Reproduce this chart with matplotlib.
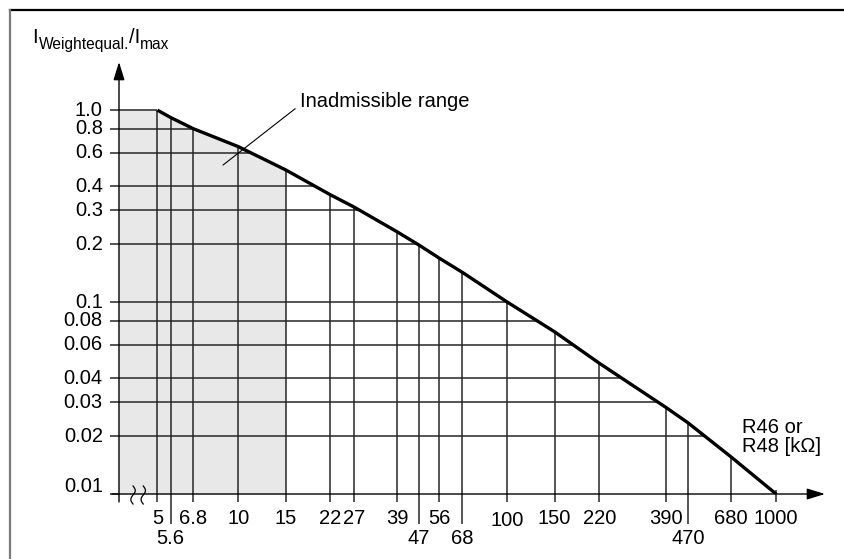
import numpy as np
import matplotlib
matplotlib.use('Agg')
import matplotlib.pyplot as plt
import matplotlib.transforms as mtransforms
from matplotlib.lines import Line2D

plt.rcParams['font.family'] = ['Liberation Sans', 'DejaVu Sans']

# load resistor R46 / R48 [kOhm] against permitted current ratio
r_kohm = [5, 5.6, 6.8, 10, 15, 22, 27, 39, 47, 56, 68, 100, 150, 220, 390, 470, 680, 1000]
i_ratio = [1.0, 0.915, 0.80, 0.645, 0.488, 0.362, 0.312, 0.232, 0.198, 0.169, 0.143,
           0.100, 0.070, 0.048, 0.0282, 0.0235, 0.0156, 0.01]
x_labels = ['5', '5.6', '6.8', '10', '15', '22', '27', '39', '47', '56', '68',
            '100', '150', '220', '390', '470', '680', '1000']
x_lower_row = ['5.6', '47', '68', '470']
y_ticks = [1.0, 0.8, 0.6, 0.4, 0.3, 0.2, 0.1, 0.08, 0.06, 0.04, 0.03, 0.02, 0.01]
y_labels = ['1.0', '0.8', '0.6', '0.4', '0.3', '0.2', '0.1', '0.08', '0.06',
            '0.04', '0.03', '0.02', '0.01']
inadmissible_limit = 15

FS = 14.5
W, H = 845, 559

fig = plt.figure(figsize=(W / 100, H / 100), dpi=100)
ax = fig.add_axes([119 / W, (H - 494) / H, (825 - 119) / W, (494 - 62) / H])
ax.set_xscale('log')
ax.set_yscale('log')
ax.set_xlim(3.6, 1520)
ax.set_ylim(0.01, 1.78)
for s in ax.spines.values():
    s.set_visible(False)
ax.set_xticks([])
ax.set_yticks([])
ax.minorticks_off()
ax.patch.set_alpha(0)

x0 = ax.get_xlim()[0]
grid_kw = dict(color='#262626', lw=1.1, solid_capstyle='butt')

# shaded inadmissible range (left of 15 kOhm, below the curve)
k = r_kohm.index(inadmissible_limit)
xs = [x0] + r_kohm[:k + 1]
tops = [i_ratio[0]] + i_ratio[:k + 1]
ax.fill_between(xs, 0.01, tops, color='#e8e8e8', lw=0, zorder=0)

# horizontal lines run from the y axis to the curve
log_r = np.log10(r_kohm)[::-1]
log_i = np.log10(i_ratio)[::-1]
ytrans = ax.get_yaxis_transform()
for yv in y_ticks:
    if yv > 0.01:
        x_end = 10 ** np.interp(np.log10(yv), log_i, log_r)
        ax.plot([x0, x_end], [yv, yv], zorder=1, **grid_kw)
    ax.plot([-0.013, 0], [yv, yv], transform=ytrans, clip_on=False, zorder=1, **grid_kw)

# vertical lines run from below the x axis up to the curve
xtrans = ax.get_xaxis_transform()
for xv, yv, lab in zip(r_kohm, i_ratio, x_labels):
    if yv > 0.01:
        ax.plot([xv, xv], [0.01, yv], zorder=1, **grid_kw)
        low = -30 / 432 if lab in x_lower_row else -8 / 432
        ax.plot([xv, xv], [low, 0], transform=xtrans, clip_on=False, zorder=1, **grid_kw)
    else:
        ax.plot([xv, xv], [-8 / 432, 4 / 432], transform=xtrans, clip_on=False,
                zorder=1, **grid_kw)
    dy = -44 if lab in x_lower_row else (-27 if lab == '100' else -24)
    ax.annotate(lab, xy=(xv, 0.01), xytext=(0, dy), textcoords='offset pixels',
                ha='center', va='center', fontsize=FS, annotation_clip=False)

for yv, lab in zip(y_ticks, y_labels):
    dy = 7 if lab == '0.01' else 0
    ax.annotate(lab, xy=(-0.023, yv), xycoords=ytrans, xytext=(0, dy),
                textcoords='offset pixels', ha='right', va='center', fontsize=FS,
                annotation_clip=False)

# characteristic curve
ax.plot(r_kohm, i_ratio, color='black', lw=2.4, zorder=3, solid_capstyle='butt')

# axes with arrow heads
arrow = dict(arrowstyle='-|>,head_length=0.55,head_width=0.17', color='black',
             lw=1.0, mutation_scale=20, shrinkA=0, shrinkB=0)
ax.annotate('', xy=(0, 1), xytext=(0, -8 / 432), xycoords='axes fraction',
            arrowprops=arrow, annotation_clip=False)
ax.annotate('', xy=(1, 0), xytext=(-7 / 706, 0), xycoords='axes fraction',
            arrowprops=arrow, annotation_clip=False)

# axis break marks
t = np.linspace(-1, 1, 40)
for xb in [4.06, 4.43]:
    tr = fig.dpi_scale_trans + mtransforms.ScaledTranslation(xb, 0.01, ax.transData)
    ax.plot(0.022 * np.sin(np.pi * t), 0.09 * t - 0.01, transform=tr, color='black',
            lw=0.9, clip_on=False, zorder=4)

# label of the shaded range
ax.annotate('Inadmissible range', xy=(8.77, 0.517), xytext=(17.0, 1.114),
            ha='left', va='center', fontsize=FS,
            arrowprops=dict(arrowstyle='-', lw=0.8, color='black', relpos=(-0.03, 0.1),
                            shrinkA=0, shrinkB=0))

ax.text(0.882, 0.132, 'R46 or\nR48 [k\u03a9]', transform=ax.transAxes, ha='left',
        va='center', fontsize=FS, linespacing=1.05)

# y axis title built from pieces with subscripts
t1 = ax.annotate('I', xy=(32, H - 43), xycoords='figure pixels', fontsize=FS,
                 va='baseline', annotation_clip=False)
t2 = ax.annotate('Weightequal.', xy=(1, 0), xycoords=t1, xytext=(1, -5),
                 textcoords='offset pixels', fontsize=11.2, va='bottom',
                 annotation_clip=False)
t3 = ax.annotate('/I', xy=(1, 0), xycoords=t2, xytext=(0, 5),
                 textcoords='offset pixels', fontsize=FS, va='bottom',
                 annotation_clip=False)
ax.annotate('max', xy=(1, 0), xycoords=t3, xytext=(0, -5),
            textcoords='offset pixels', fontsize=11.2, va='bottom',
            annotation_clip=False)

# frame lines along the top and left edge
fig.add_artist(Line2D([10 / W, 1], [1 - 10 / H, 1 - 10 / H], color='black', lw=1.6,
                      transform=fig.transFigure))
fig.add_artist(Line2D([10 / W, 10 / W], [0, 1 - 10 / H], color='#7a7a7a', lw=1.6,
                      transform=fig.transFigure))

fig.savefig('out.png', dpi=100)
